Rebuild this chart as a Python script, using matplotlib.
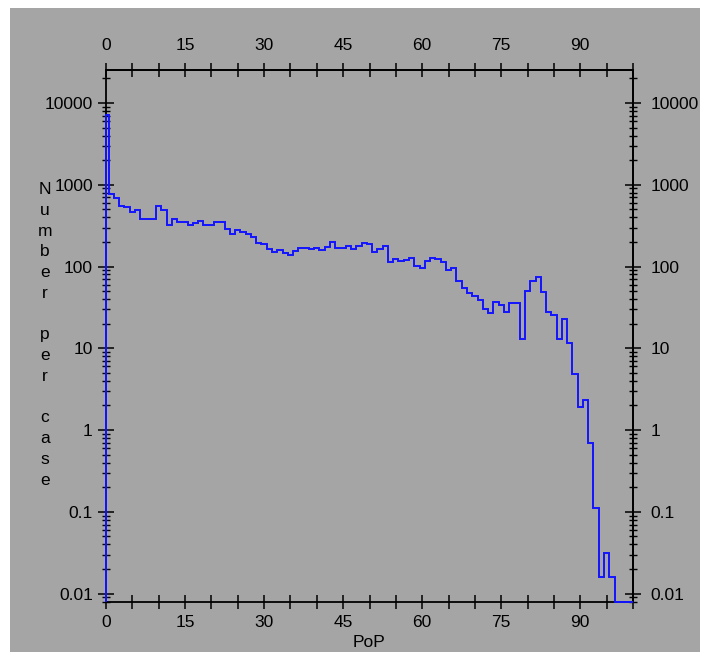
import numpy as np
import matplotlib
matplotlib.use("Agg")
import matplotlib.pyplot as plt
from matplotlib.patches import Rectangle
from matplotlib.ticker import FixedLocator, FixedFormatter, MultipleLocator, LogLocator, NullFormatter

# PoP value (percent) and the number of occurrences per case for each value
pop_values = np.arange(0, 101)
counts = np.array([
    7100, 771, 683, 550, 530, 468, 491, 384, 384, 384,      # 0-9
    554, 491, 322, 381, 350, 350, 322, 338, 363, 322,       # 10-19
    322, 350, 350, 285, 250, 280, 264, 252, 232, 196,       # 20-29
    188, 165, 152, 158, 145, 138, 155, 170, 170, 164,       # 30-39
    170, 159, 175, 199, 170, 170, 180, 164, 178, 192,       # 40-49
    187, 149, 162, 178, 113, 125, 117, 121, 126, 102,       # 50-59
    95, 118, 126, 122, 115, 91, 95, 67, 54, 48,             # 60-69
    43, 39, 30, 26.7, 36.5, 34, 28, 35.5, 36, 13,           # 70-79
    50, 67, 74, 49, 28, 25.5, 13, 23, 11.5, 4.9,            # 80-89
    1.93, 2.33, 0.70, 0.110, 0.0161, 0.031, 0.0161, 0, 0, 0,  # 90-99
    0,                                                      # 100
])

x_tick_values = [0, 15, 30, 45, 60, 75, 90]
y_tick_values = [0.01, 0.1, 1, 10, 100, 1000, 10000]
y_tick_labels = ["0.01", "0.1", "1", "10", "100", "1000", "10000"]

BG = "#a5a5a5"
LINE = "#1414ff"
X_LO, X_HI = 0, 100
Y_LO, Y_HI = 0.0079, 25300

plt.rcParams["font.family"] = ["Liberation Sans", "DejaVu Sans"]
plt.rcParams["font.size"] = 12.5

W, H = 708, 660
fig = plt.figure(figsize=(W / 100, H / 100), dpi=100, facecolor="white")
fig.patches.append(Rectangle((10 / W, 8 / H), 690 / W, 644 / H, transform=fig.transFigure,
                             facecolor=BG, edgecolor="none", zorder=-10))

ax = fig.add_axes([106 / W, 1 - 602 / H, 527 / W, 532 / H])
ax.set_zorder(1)
ax.set_facecolor(BG)
ax.set_yscale("log")
ax.set_xlim(X_LO, X_HI)
ax.set_ylim(Y_LO, Y_HI)

# one bin per integer PoP value, centred on the value
edges = np.concatenate([[X_LO], pop_values[:-1] + 0.5, [X_HI]])
ax.stairs(np.clip(counts, Y_LO, None), edges, baseline=Y_LO,
          color=LINE, lw=1.4, clip_on=False, zorder=3)

for sp in ax.spines.values():
    sp.set_linewidth(1.3)
    sp.set_color("black")


def style_x(axis_obj, pad):
    axis_obj.xaxis.set_major_locator(FixedLocator(x_tick_values))
    axis_obj.xaxis.set_minor_locator(MultipleLocator(5))
    axis_obj.tick_params(axis="x", which="both", direction="inout", length=10.5,
                         width=1.1, pad=pad, colors="black")


def style_y(axis_obj, pad):
    axis_obj.yaxis.set_major_locator(FixedLocator(y_tick_values))
    axis_obj.yaxis.set_major_formatter(FixedFormatter(y_tick_labels))
    axis_obj.yaxis.set_minor_locator(LogLocator(base=10, subs=range(2, 10), numticks=30))
    axis_obj.yaxis.set_minor_formatter(NullFormatter())
    axis_obj.tick_params(axis="y", which="major", direction="inout", length=11,
                         width=1.1, pad=pad, colors="black")
    axis_obj.tick_params(axis="y", which="minor", direction="inout", length=5.5, width=1.0)


# bottom and left on the main axes
style_x(ax, 4)
style_y(ax, 4)
ax.tick_params(top=False, right=False, which="both")

# mirrored scales along the top and right edges
top = ax.secondary_xaxis("top")
style_x(top, 7)
top.spines["top"].set_linewidth(1.3)

right = ax.secondary_yaxis("right")
style_y(right, 7)
right.spines["right"].set_linewidth(1.3)

ax.set_xlabel("PoP", labelpad=3.5)
ax.set_ylabel("\n".join("Number per case"), rotation=0, linespacing=1.48,
              ha="center", va="center")
ax.yaxis.set_label_coords(-0.116, 0.502)

fig.savefig("out.png", dpi=100, facecolor=fig.get_facecolor())
